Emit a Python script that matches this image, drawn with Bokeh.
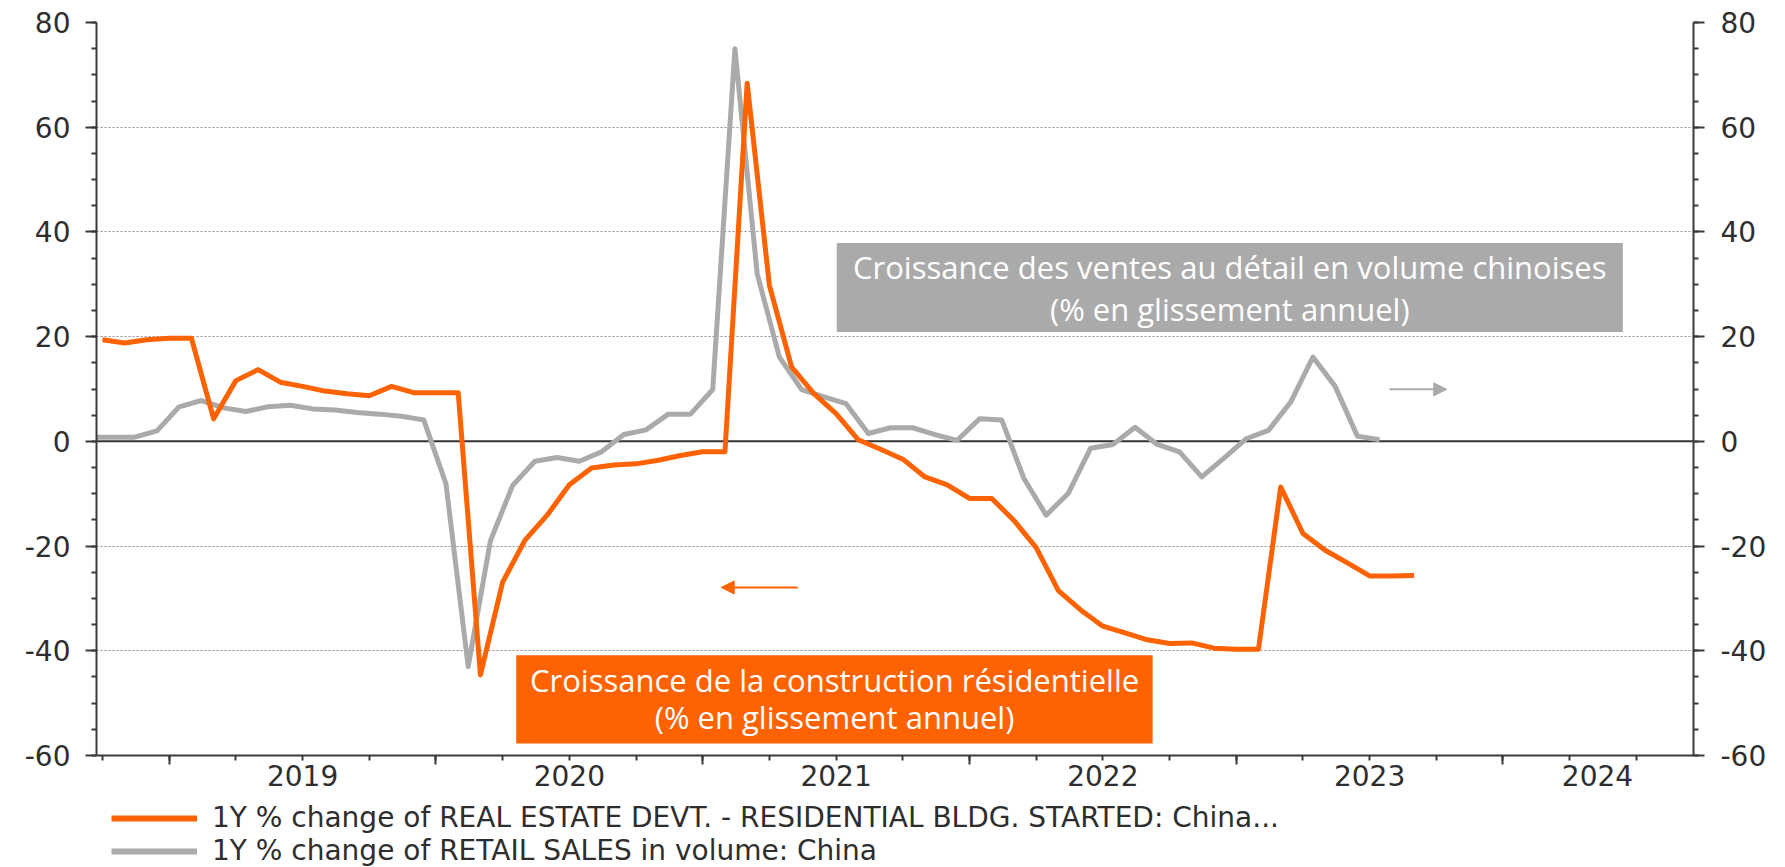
from bokeh.plotting import figure
from bokeh.layouts import column
from bokeh.models import (Range1d, LinearAxis, FixedTicker, Span, BoxAnnotation, Label,
                          Arrow, NormalHead, Legend, LegendItem, ColumnDataSource)
from bokeh.embed import file_html
from bokeh.resources import INLINE

# ---------------- data ----------------
orange_months = [
    "2018-10", "2018-11", "2018-12",
    "2019-01", "2019-02", "2019-03", "2019-04", "2019-05", "2019-06",
    "2019-07", "2019-08", "2019-09", "2019-10", "2019-11", "2019-12",
    "2020-01", "2020-02", "2020-03", "2020-04", "2020-05", "2020-06",
    "2020-07", "2020-08", "2020-09", "2020-10", "2020-11", "2020-12",
    "2021-01", "2021-02", "2021-03", "2021-04", "2021-05", "2021-06",
    "2021-07", "2021-08", "2021-09", "2021-10", "2021-11", "2021-12",
    "2022-01", "2022-02", "2022-03", "2022-04", "2022-05", "2022-06",
    "2022-07", "2022-08", "2022-09", "2022-10", "2022-11", "2022-12",
    "2023-01", "2023-02", "2023-03", "2023-04", "2023-05", "2023-06",
    "2023-07", "2023-08", "2023-09",
]
orange_values = [
    19.4, 18.8, 19.4,
    19.7, 19.7, 4.3, 11.6, 13.7, 11.3,
    10.5, 9.6, 9.1, 8.7, 10.5, 9.3,
    9.3, 9.3, -44.6, -26.9, -18.9, -14.1,
    -8.3, -5.1, -4.5, -4.3, -3.6, -2.7,
    -2.0, -2.0, 68.4, 29.8, 14.2, 9.1,
    5.3, 0.3, -1.5, -3.4, -6.8, -8.3,
    -10.9, -10.9, -15.1, -20.3, -28.5, -32.2,
    -35.3, -36.6, -37.9, -38.6, -38.5, -39.5,
    -39.7, -39.7, -8.7, -17.6, -20.8, -23.2,
    -25.7, -25.7, -25.6,
]

gray_months = [
    "2018-09", "2018-10", "2018-11", "2018-12",
    "2019-01", "2019-02", "2019-03", "2019-04", "2019-05", "2019-06",
    "2019-07", "2019-08", "2019-09", "2019-10", "2019-11", "2019-12",
    "2020-01", "2020-02", "2020-03", "2020-04", "2020-05", "2020-06",
    "2020-07", "2020-08", "2020-09", "2020-10", "2020-11", "2020-12",
    "2021-01", "2021-02", "2021-03", "2021-04", "2021-05", "2021-06",
    "2021-07", "2021-08", "2021-09", "2021-10", "2021-11", "2021-12",
    "2022-01", "2022-02", "2022-03", "2022-04", "2022-05", "2022-06",
    "2022-07", "2022-08", "2022-09", "2022-10", "2022-11", "2022-12",
    "2023-01", "2023-02", "2023-03", "2023-04", "2023-05", "2023-06",
    "2023-07",
]
gray_values = [
    0.8, 0.8, 0.8, 2.0,
    6.6, 7.8, 6.4, 5.7, 6.6, 6.9,
    6.2, 6.0, 5.5, 5.2, 4.8, 4.1,
    -8.1, -43.0, -19.0, -8.4, -3.8, -3.1,
    -3.8, -2.0, 1.3, 2.2, 5.2, 5.2,
    9.9, 75.0, 32.0, 16.1, 9.9, 8.5,
    7.2, 1.5, 2.6, 2.6, 1.3, 0.2,
    4.3, 4.1, -7.1, -14.1, -9.9, -1.3,
    -0.6, 2.7, -0.6, -2.0, -6.8, -3.2,
    0.5, 2.1, 7.5, 16.1, 10.5, 1.0,
    0.3,
]

year_labels = ["2019", "2020", "2021", "2022", "2023", "2024"]
y_ticks = [-60, -40, -20, 0, 20, 40, 60, 80]

orange_name = "1Y % change of REAL ESTATE DEVT. - RESIDENTIAL BLDG. STARTED: China..."
gray_name = "1Y % change of RETAIL SALES in volume: China"
gray_box_lines = ["Croissance des ventes au détail en volume chinoises", "(% en glissement annuel)"]
orange_box_lines = ["Croissance de la construction résidentielle", "(% en glissement annuel)"]

# ---------------- styles ----------------
ORANGE = "#FF6200"
GREY = "#AAAAAA"
AXIS = "#3A3A3A"
TXT = "#2E2E2E"
TICK_FONT = "DejaVu Sans"
BOX_FONT = "Open Sans"
GRAY_OFFSET = 0.45  # retail sales plotted mid-month
W = 1785
H_MAIN = 798
H_LEG = 69
LINE_W = 5


def month_index(s, offset=0.0):
    y, m = s.split("-")
    return (int(y) - 2019) * 12 + int(m) - 1 + offset


ox = [month_index(s) for s in orange_months]
gx = [month_index(s, GRAY_OFFSET) for s in gray_months]

X0, X1 = -3.27, 68.57

p = figure(width=W, height=H_MAIN, output_backend="svg", toolbar_location=None,
           x_range=Range1d(X0, X1), y_range=Range1d(-60, 80),
           min_border_left=96, min_border_right=92, min_border_top=22, min_border_bottom=43)
p.extra_y_ranges = {"right": Range1d(-60, 80)}
p.outline_line_color = None
p.background_fill_color = "white"
p.border_fill_color = "white"

# grid
p.xgrid.visible = False
p.ygrid.grid_line_color = "#8F8F8F"
p.ygrid.grid_line_dash = "2 2"
p.ygrid.grid_line_width = 1


def style_y(ax, standoff):
    ax.ticker = FixedTicker(ticks=y_ticks, minor_ticks=list(range(-60, 81, 5)))
    ax.major_label_overrides = {t: str(t) for t in y_ticks}
    ax.axis_line_color = AXIS
    ax.axis_line_width = 2
    ax.major_tick_line_color = AXIS
    ax.major_tick_line_width = 2
    ax.minor_tick_line_color = AXIS
    ax.minor_tick_line_width = 2
    ax.major_tick_in = 0
    ax.major_tick_out = 11
    ax.minor_tick_in = 0
    ax.minor_tick_out = 5
    ax.major_label_text_font = TICK_FONT
    ax.major_label_text_font_size = "28px"
    ax.major_label_text_color = TXT
    ax.major_label_standoff = standoff


style_y(p.yaxis[0], 15)
right_axis = LinearAxis(y_range_name="right")
style_y(right_axis, 16)
p.add_layout(right_axis, "right")

# x axis: tick marks (year boundaries long, quarters short)
year_starts = [(int(y) - 2019) * 12 for y in year_labels]
quarter_ticks = list(range(-3, 69, 3))
xa = p.xaxis[0]
xa.ticker = FixedTicker(ticks=year_starts, minor_ticks=quarter_ticks)
xa.axis_line_color = AXIS
xa.axis_line_width = 2
xa.major_tick_line_color = AXIS
xa.major_tick_line_width = 2
xa.minor_tick_line_color = AXIS
xa.minor_tick_line_width = 2
xa.major_tick_in = 0
xa.major_tick_out = 9
xa.minor_tick_in = 0
xa.minor_tick_out = 5
xa.major_label_overrides = {t: "" for t in year_starts}
xa.major_label_text_font_size = "1px"
xa.major_label_standoff = 0

# x axis: year labels centred in the visible part of each year
centers = []
for y in year_labels:
    a = max((int(y) - 2019) * 12, X0)
    b = min((int(y) - 2019) * 12 + 12, X1)
    centers.append(round((a + b) / 2 * 4) / 4)
xb = LinearAxis(ticker=FixedTicker(ticks=centers),
                major_label_overrides={c: lbl for c, lbl in zip(centers, year_labels)})
xb.axis_line_color = None
xb.major_tick_line_color = None
xb.minor_tick_line_color = None
xb.major_tick_out = 0
xb.major_tick_in = 0
xb.major_label_standoff = 0
xb.major_label_text_font = TICK_FONT
xb.major_label_text_font_size = "28px"
xb.major_label_text_color = TXT
p.add_layout(xb, "below")

# zero line
p.add_layout(Span(location=0, dimension="width", line_color="#333333", line_width=2, level="underlay"))

# series
src_g = ColumnDataSource(dict(x=gx, y=gray_values))
src_o = ColumnDataSource(dict(x=ox, y=orange_values))
r_g = p.line("x", "y", source=src_g, line_color=GREY, line_width=LINE_W, line_join="round",
             y_range_name="right")
r_o = p.line("x", "y", source=src_o, line_color=ORANGE, line_width=LINE_W, line_join="round")

# annotation boxes
p.add_layout(BoxAnnotation(left=30.03, right=65.39, bottom=20.9, top=37.9,
                           fill_color=GREY, fill_alpha=1, line_color=None))
p.add_layout(BoxAnnotation(left=15.61, right=44.24, bottom=-57.73, top=-40.87,
                           fill_color=ORANGE, fill_alpha=1, line_color=None))
for txt, yy in zip(gray_box_lines, [33.3, 25.3]):
    p.add_layout(Label(x=47.71, y=yy, text=txt, text_align="center", text_baseline="middle",
                       text_color="white", text_font=BOX_FONT, text_font_size="31px"))
for txt, yy in zip(orange_box_lines, [-45.5, -52.65]):
    p.add_layout(Label(x=29.93, y=yy, text=txt, text_align="center", text_baseline="middle",
                       text_color="white", text_font=BOX_FONT, text_font_size="31px"))

# arrows
p.add_layout(Arrow(x_start=28.27, y_start=-27.9, x_end=24.83, y_end=-27.9,
                   end=NormalHead(size=13, fill_color=ORANGE, line_color=ORANGE),
                   line_color=ORANGE, line_width=2))
p.add_layout(Arrow(x_start=54.9, y_start=9.93, x_end=57.47, y_end=9.93,
                   end=NormalHead(size=13, fill_color=GREY, line_color=GREY),
                   line_color=GREY, line_width=2))

# ---------------- legend strip (separate figure below the chart) ----------------
# the legend figure views a range far away from the data, so only the swatches show
q = figure(width=W, height=H_LEG, output_backend="svg", toolbar_location=None,
           x_range=Range1d(0, 1), y_range=Range1d(1000, 1001),
           x_axis_type=None, y_axis_type=None, min_border=0)
q.outline_line_color = None
q.xgrid.visible = False
q.ygrid.visible = False
lo = q.line(ox, orange_values, line_color=ORANGE, line_width=6)
lg = q.line(gx, gray_values, line_color=GREY, line_width=6)
legend = Legend(items=[LegendItem(label=orange_name, renderers=[lo]),
                       LegendItem(label=gray_name, renderers=[lg])],
                location=(15, 0), orientation="vertical", padding=0, margin=0, spacing=0,
                glyph_width=86, glyph_height=28, label_height=28, label_standoff=15,
                label_text_font=TICK_FONT, label_text_font_size="28px", label_text_color=TXT,
                border_line_color=None, background_fill_alpha=0)
q.add_layout(legend, "center")

open("out.html", "w").write(file_html(column(p, q, spacing=0), INLINE))
